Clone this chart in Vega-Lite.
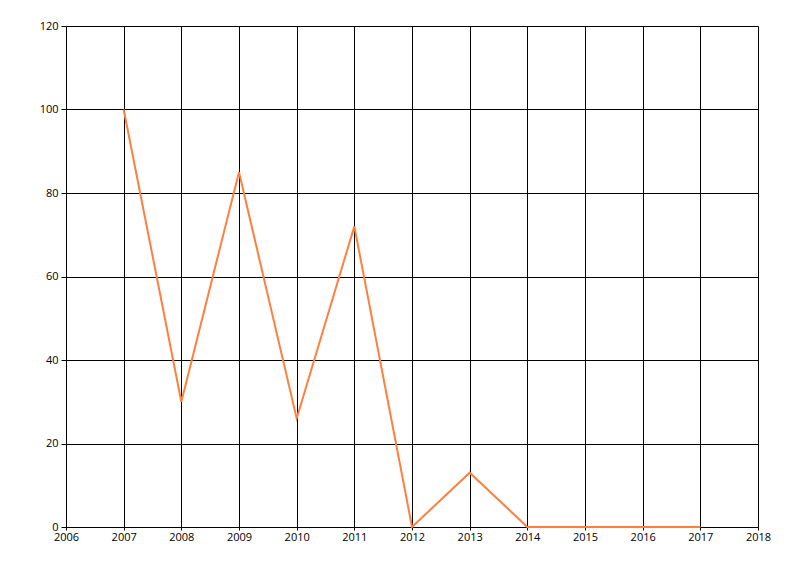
{
  "$schema": "https://vega.github.io/schema/vega-lite/v6.json",
  "autosize": "none",
  "padding": {"left": 66, "top": 26, "right": 42, "bottom": 49},
  "width": 692,
  "height": 501,
  "background": "white",
  "config": {
    "view": {"stroke": null},
    "axis": {
      "labelFont": "Open Sans",
      "labelFontSize": 11,
      "labelColor": "#000000",
      "gridColor": "#000000",
      "gridOpacity": 1,
      "gridWidth": 1,
      "domain": false,
      "tickColor": "#000000",
      "tickSize": 5,
      "tickWidth": 1
    }
  },
  "data": {
    "values": [
      {"year": 2007, "value": 100},
      {"year": 2008, "value": 30},
      {"year": 2009, "value": 85},
      {"year": 2010, "value": 26},
      {"year": 2011, "value": 72},
      {"year": 2012, "value": 0},
      {"year": 2013, "value": 13},
      {"year": 2014, "value": 0},
      {"year": 2015, "value": 0},
      {"year": 2016, "value": 0},
      {"year": 2017, "value": 0}
    ]
  },
  "mark": {"type": "line", "color": "#ff7f3f", "strokeWidth": 2},
  "encoding": {
    "x": {
      "field": "year",
      "type": "quantitative",
      "scale": {"domain": [2006, 2018], "nice": false, "zero": false},
      "axis": {"title": null, "values": [2006,2007,2008,2009,2010,2011,2012,2013,2014,2015,2016,2017,2018], "format": "d", "labelPadding": 1, "tickSize": 3, "labelFlush": false, "labelOverlap": false}
    },
    "y": {
      "field": "value",
      "type": "quantitative",
      "scale": {"domain": [0, 120], "nice": false},
      "axis": {"title": null, "values": [0, 20, 40, 60, 80, 100, 120], "labelPadding": 3, "labelFlush": false}
    }
  }
}
